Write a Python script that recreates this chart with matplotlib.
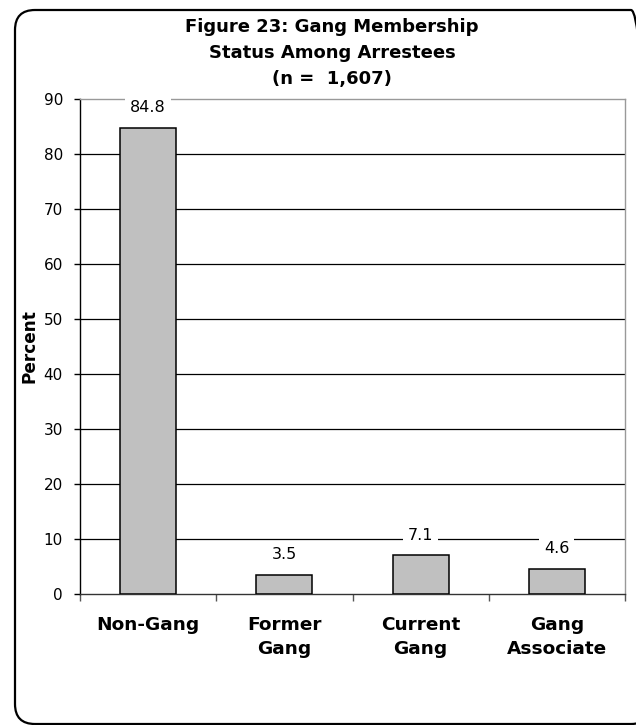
import matplotlib
matplotlib.use("Agg")
import matplotlib.pyplot as plt
from matplotlib.patches import FancyBboxPatch
from matplotlib.transforms import IdentityTransform
import numpy as np

# data
categories = ["Non-Gang", "Former\nGang", "Current\nGang", "Gang\nAssociate"]
percents = [84.8, 3.5, 7.1, 4.6]
yticks = [0, 10, 20, 30, 40, 50, 60, 70, 80, 90]

plt.rcParams['font.family'] = ['DejaVu Sans']

fig = plt.figure(figsize=(6.36, 7.25), dpi=100)

# rounded outer frame (pixel coords, runs off the right/bottom edge)
frame = FancyBboxPatch((15, 1), 636, 714,
                       boxstyle="round,pad=0,rounding_size=20",
                       transform=IdentityTransform(), fill=False,
                       edgecolor="black", linewidth=1.6)
fig.patches.append(frame)

ax = fig.add_axes([80 / 636, 1 - 594 / 725, 545 / 636, 495 / 725])

x = np.arange(len(categories))
ax.bar(x, percents, width=0.41, color="#c0c0c0", edgecolor="black",
       linewidth=1.1, zorder=3)

for xi, v in zip(x, percents):
    ax.text(xi, v + 3.6, f"{v:.1f}", ha="center", va="center", fontsize=11.5,
            zorder=4, bbox=dict(facecolor="white", edgecolor="none", pad=3.5))

ax.set_xlim(-0.5, len(categories) - 0.5)
ax.set_ylim(0, 90)
ax.set_yticks(yticks)
ax.set_yticklabels([str(t) for t in yticks], fontsize=11)
ax.set_xticks(x)
ax.set_xticklabels(categories, fontsize=13.3, fontweight="bold", linespacing=1.44)
ax.set_xticks(np.arange(-0.5, len(categories)), minor=True)
ax.tick_params(axis="x", which="major", length=0, pad=15.5)
ax.tick_params(axis="x", which="minor", length=5, width=1, color="#555555")
ax.tick_params(axis="y", length=4.3, width=1, pad=8)

for t in yticks[1:-1]:
    ax.axhline(t, color="black", linewidth=0.9, zorder=1)

ax.spines["top"].set_color("#999999")
ax.spines["right"].set_color("#999999")
ax.spines["left"].set_color("black")
ax.spines["bottom"].set_color("#333333")
for s in ax.spines.values():
    s.set_linewidth(1.0)

ax.set_ylabel("Percent", fontsize=12.2, fontweight="bold")
ax.yaxis.set_label_coords(-0.077, 0.5)

fig.text(332 / 636, 1 - 53 / 725,
         "Figure 23: Gang Membership\nStatus Among Arrestees\n(n =  1,607)",
         ha="center", va="center", fontsize=13, fontweight="bold",
         linespacing=1.54)

fig.savefig("out.png", dpi=100)
